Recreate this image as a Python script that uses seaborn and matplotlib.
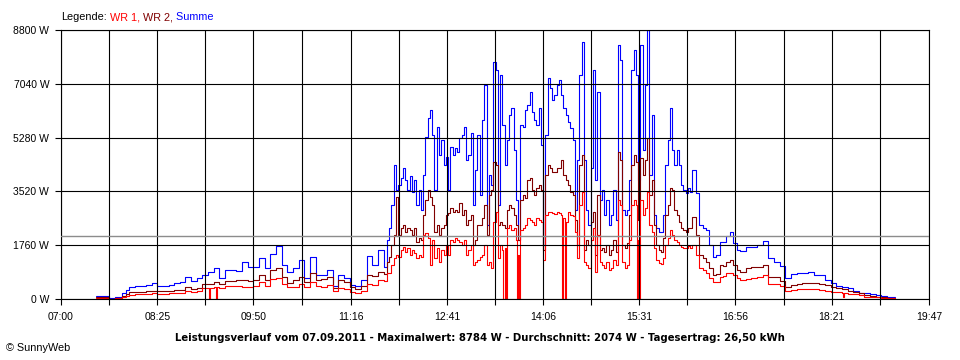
import matplotlib
matplotlib.use("Agg")
import numpy as np
import pandas as pd
import matplotlib.pyplot as plt
import seaborn as sns

# ---------------- data ----------------
times_am = [
    "07:31", "07:35", "07:40", "07:42", "07:45", "07:48", "07:51", "07:54", "07:57", "08:00",
    "08:05", "08:10", "08:15", "08:20", "08:25", "08:30", "08:35", "08:40", "08:45", "08:50",
    "08:55", "09:00", "09:05", "09:10", "09:11", "09:12", "09:15", "09:17", "09:18", "09:20",
    "09:25", "09:30", "09:35", "09:40", "09:45", "09:50", "09:55", "10:00", "10:05", "10:10",
    "10:15", "10:20", "10:25", "10:30", "10:35", "10:40", "10:45", "10:50", "10:55", "11:00",
    "11:05", "11:10", "11:15", "11:20", "11:25", "11:30", "11:35", "11:40", "11:45", "11:48",
]
summe_am = [
    100, 100, 100, 20, 20, 80, 80, 200, 295, 390,
    425, 425, 460, 520, 440, 440, 460, 520, 555, 720,
    590, 690, 785, 880, 880, 880, 1010, 1010, 1010, 690,
    950, 950, 920, 1210, 1050, 1050, 1340, 1010, 1470, 1730,
    1110, 880, 1010, 1280, 690, 1370, 785, 785, 950, 420,
    785, 690, 460, 420, 620, 1410, 1110, 1600, 1050, 1930,
]
wr2_am = [
    50, 50, 50, 15, 15, 40, 45, 100, 160, 230,
    240, 240, 250, 260, 250, 250, 260, 280, 295, 390,
    330, 360, 490, 490, 490, 490, 550, 550, 550, 490,
    590, 590, 620, 620, 590, 620, 785, 620, 950, 1010,
    720, 520, 620, 720, 560, 850, 620, 650, 720, 360,
    620, 560, 390, 330, 420, 785, 750, 880, 820, 1210,
]
wr1_am = [
    35, 35, 35, 10, 10, 30, 30, 65, 100, 130,
    150, 165, 165, 180, 170, 170, 180, 190, 200, 260,
    230, 260, 360, 360, 0, 360, 390, 0, 390, 360,
    425, 425, 425, 390, 390, 420, 560, 420, 650, 690,
    490, 390, 390, 490, 390, 560, 420, 390, 450, 260,
    360, 330, 230, 200, 260, 490, 460, 620, 590, 850,
]

times_mid = [
    "11:50", "11:52", "11:54", "11:56", "11:58", "12:00", "12:02", "12:04", "12:06", "12:08",
    "12:10", "12:12", "12:14", "12:16", "12:18", "12:20", "12:22", "12:24", "12:26", "12:28",
    "12:30", "12:32", "12:34", "12:36", "12:38", "12:40", "12:42", "12:44", "12:46", "12:48",
    "12:50", "12:52", "12:54", "12:56", "12:58", "13:00", "13:02", "13:04", "13:06", "13:08",
    "13:10", "13:12", "13:14", "13:16", "13:18", "13:20", "13:22", "13:24", "13:26", "13:28",
    "13:30", "13:31", "13:32", "13:33", "13:34", "13:36", "13:38", "13:40", "13:42", "13:43",
    "13:44", "13:45", "13:46", "13:48", "13:50", "13:52", "13:54", "13:56", "13:58", "14:00",
    "14:02", "14:04", "14:06", "14:08", "14:10", "14:12", "14:14", "14:16", "14:18", "14:20",
    "14:22", "14:23", "14:24", "14:25", "14:26", "14:28", "14:30", "14:32", "14:34", "14:36",
    "14:38", "14:40", "14:42", "14:44", "14:46", "14:48", "14:50", "14:52", "14:54", "14:56",
    "14:58", "15:00", "15:02", "15:04", "15:06", "15:08", "15:10", "15:12", "15:14", "15:16",
    "15:18", "15:20", "15:22", "15:24", "15:26", "15:28", "15:29", "15:30", "15:31", "15:32",
    "15:34", "15:36", "15:38", "15:40", "15:42", "15:44", "15:46", "15:48", "15:50", "15:52",
    "15:54", "15:56", "15:58", "16:00", "16:02", "16:04", "16:06", "16:08", "16:10", "16:12",
    "16:14", "16:16",
]
summe_mid = [
    2320, 3070, 4380, 3570, 3730, 3960, 4290, 3890, 3570, 4020,
    3500, 3890, 3070, 3570, 2910, 4060, 5300, 5920, 6180, 5360,
    3570, 5630, 4710, 5200, 4380, 4640, 3570, 4970, 4710, 4940,
    4810, 5270, 5360, 5630, 4550, 4710, 5430, 3070, 4220, 5360,
    3400, 5860, 7000, 2420, 4060, 3730, 7750, 7490, 3070, 7330,
    5690, 5690, 4380, 4380, 5200, 6020, 6250, 4870, 3240, 3240,
    1930, 1930, 5690, 5630, 6180, 6350, 6770, 6120, 5860, 5690,
    6250, 5040, 1770, 5360, 7230, 6900, 6510, 6670, 7000, 7160,
    6670, 6670, 6250, 6250, 6020, 5790, 5590, 5200, 2910, 4550,
    7330, 8410, 4550, 2910, 2420, 4290, 7490, 3890, 6770, 3240,
    3570, 2750, 3240, 2420, 2750, 3570, 2580, 8310, 7820, 2910,
    2750, 2910, 3890, 7490, 8150, 7330, 7330, 3890, 3890, 8310,
    4870, 7000, 8784, 4060, 6020, 2750, 2320, 2190, 2190, 2750,
    4380, 5200, 6250, 4870, 4380, 4870, 4380, 3730, 3570, 3470,
    3630, 3500,
]
wr2_mid = [
    1370, 1770, 2090, 3340, 2090, 2320, 2420, 2190, 2320, 2260,
    2090, 2320, 1860, 1990, 1930, 2750, 3240, 3570, 3340, 3070,
    2190, 2420, 2090, 2320, 2420, 2750, 2810, 2980, 2850, 2910,
    2850, 3140, 2750, 2910, 2420, 2580, 2750, 1770, 1930, 2420,
    2420, 2650, 3070, 2090, 3400, 3570, 4480, 4380, 2420, 2520,
    2420, 2420, 2320, 2320, 2910, 3070, 2980, 2750, 2420, 2420,
    1930, 1930, 3240, 3400, 3300, 3890, 3960, 3570, 3400, 3630,
    3730, 3570, 1600, 4060, 4380, 4290, 4150, 4150, 4290, 4290,
    4550, 4550, 4060, 4060, 3890, 3730, 3500, 3400, 2580, 1770,
    4380, 4710, 1600, 1930, 1770, 2520, 2850, 1440, 3400, 1600,
    1670, 1540, 1770, 1440, 1600, 1930, 1540, 4810, 4550, 1770,
    1670, 1830, 2750, 4380, 4710, 4480, 4480, 2580, 2580, 4610,
    4060, 4550, 5270, 3400, 3890, 2420, 1770, 1600, 1540, 2000,
    2750, 3070, 3630, 3570, 2910, 2750, 2520, 2320, 2260, 2190,
    2320, 2320,
]
wr1_mid = [
    850, 1110, 1340, 1440, 1370, 1600, 1700, 1540, 1670, 1440,
    1600, 1500, 1340, 1440, 1370, 2090, 2160, 2000, 1110, 1930,
    1340, 1670, 1210, 1600, 1440, 1770, 1440, 1930, 1860, 2000,
    1930, 1860, 1770, 1930, 1440, 1600, 1770, 1110, 1210, 1280,
    1370, 1440, 1770, 1110, 1210, 1010, 2520, 2850, 1340, 1770,
    1600, 0, 1670, 0, 2320, 2420, 2260, 2320, 1930, 0,
    1440, 0, 2260, 2320, 2420, 2650, 2580, 2520, 2420, 2650,
    2580, 2520, 1280, 2750, 2850, 2850, 2810, 2780, 2850, 2810,
    2750, 0, 2650, 0, 2520, 2850, 2750, 2710, 2190, 1340,
    3070, 3500, 1210, 1110, 1010, 1930, 2320, 880, 2090, 1210,
    1110, 1010, 1210, 950, 1010, 1280, 1110, 3240, 3070, 1210,
    1010, 1110, 1930, 3070, 3240, 3070, 0, 1930, 0, 3240,
    2750, 2980, 3500, 2420, 2190, 1670, 1280, 1180, 1150, 1340,
    1770, 2000, 2260, 2090, 1930, 1860, 1770, 1700, 1670, 1670,
    1730, 1670,
]

times_pm = [
    "16:18", "16:21", "16:24", "16:27", "16:30", "16:33", "16:36", "16:39", "16:42", "16:45",
    "16:48", "16:51", "16:54", "16:57", "17:00", "17:05", "17:10", "17:15", "17:20", "17:25",
    "17:30", "17:35", "17:40", "17:45", "17:50", "17:55", "18:00", "18:05", "18:10", "18:15",
    "18:20", "18:25", "18:30", "18:31", "18:32", "18:35", "18:40", "18:45", "18:50", "18:55",
    "19:00", "19:05", "19:10", "19:15", "19:17",
]
summe_pm = [
    4220, 3470, 2420, 2320, 2260, 1770, 1370, 1440, 1860, 1860,
    2060, 2190, 1830, 1600, 1570, 1700, 1700, 1770, 1900, 1340,
    1210, 1080, 690, 820, 850, 850, 880, 785, 785, 620,
    520, 425, 390, 390, 390, 360, 260, 200, 200, 165,
    130, 100, 65, 50, 50,
]
wr2_pm = [
    2680, 2090, 1440, 1340, 1210, 1010, 785, 820, 1110, 1080,
    1210, 1280, 1110, 950, 880, 1010, 1050, 1050, 1110, 720,
    720, 590, 390, 460, 490, 520, 520, 520, 490, 460,
    390, 360, 330, 330, 330, 260, 230, 200, 130, 100,
    80, 65, 40, 30, 30,
]
wr1_pm = [
    1770, 1440, 1010, 950, 850, 690, 560, 560, 720, 750,
    850, 850, 785, 690, 620, 650, 690, 720, 785, 490,
    490, 425, 260, 295, 330, 330, 330, 330, 295, 260,
    230, 230, 200, 60, 200, 165, 165, 130, 80, 65,
    50, 40, 30, 20, 20,
]

x_tick_labels = ["07:00", "08:25", "09:50", "11:16", "12:41",
                 "14:06", "15:31", "16:56", "18:21", "19:47"]
y_ticks = [0, 1760, 3520, 5280, 7040, 8800]
durchschnitt = 2074
title_text = ("Leistungsverlauf vom 07.09.2011 - Maximalwert: 8784 W - "
              "Durchschnitt: 2074 W - Tagesertrag: 26,50 kWh")
series_names = ["WR 1", "WR 2", "Summe"]
series_colors = ["#FF0000", "#800000", "#0000FF"]


def to_min(s):
    h, m = s.split(":")
    return int(h) * 60 + int(m)


times = times_am + times_mid + times_pm
df = pd.DataFrame({
    "t": [to_min(s) for s in times],
    "WR 1": wr1_am + wr1_mid + wr1_pm,
    "WR 2": wr2_am + wr2_mid + wr2_pm,
    "Summe": summe_am + summe_mid + summe_pm,
})

# ---------------- style ----------------
sns.set_theme(style="white")
plt.rcParams["font.family"] = ["Liberation Sans", "DejaVu Sans"]
plt.rcParams["text.color"] = "black"
plt.rcParams["xtick.color"] = "black"
plt.rcParams["ytick.color"] = "black"
plt.rcParams["axes.edgecolor"] = "black"

fig = plt.figure(figsize=(9.6, 3.6), dpi=100)
fig.patch.set_facecolor("white")
ax = fig.add_axes([61 / 960, 61 / 360, 868 / 960, 269 / 360])

# draw Summe first, then WR 2, then WR 1 on top
for name, color, z in [("Summe", series_colors[2], 2.0),
                       ("WR 2", series_colors[1], 2.1),
                       ("WR 1", series_colors[0], 2.2)]:
    sns.lineplot(data=df, x="t", y=name, ax=ax, color=color, lw=0.8,
                 drawstyle="steps-post", estimator=None, legend=False,
                 zorder=z)

xt = [to_min(s) for s in x_tick_labels]
ax.set_xlim(xt[0], xt[-1])
ax.set_ylim(y_ticks[0], y_ticks[-1])
ax.set_xticks(xt)
ax.set_xticklabels(x_tick_labels)
minor = [(a + b) / 2 for a, b in zip(xt[:-1], xt[1:])]
ax.set_xticks(minor, minor=True)
ax.set_yticks(y_ticks)
ax.set_yticklabels([f"{v} W" for v in y_ticks])
ax.set_xlabel("")
ax.set_ylabel("")

ax.tick_params(axis="x", which="both", direction="out", length=4, width=0.8,
               pad=5, labelsize=7.5, bottom=True)
ax.tick_params(axis="y", which="both", direction="out", length=4.5, width=0.8,
               pad=4, labelsize=7.5, left=True)

ax.set_axisbelow(False)
ax.grid(True, which="both", axis="both", color="black", lw=0.8, zorder=3)
ax.axhline(durchschnitt, color="#8c8c8c", lw=1.0, zorder=3.5)
for sp in ax.spines.values():
    sp.set_visible(True)
    sp.set_color("black")
    sp.set_linewidth(0.8)

# legend as coloured text
prev = fig.text(61 / 960, 1 - 17 / 360, "Legende:", fontsize=7.8,
                color="black", va="center", ha="left")
for s, c in [(" WR 1,", series_colors[0]), (" WR 2,", series_colors[1]),
             (" Summe", series_colors[2])]:
    prev = ax.annotate(s, xy=(1, 0), xycoords=prev, va="bottom", ha="left",
                       fontsize=7.8, color=c, annotation_clip=False)

fig.text(480 / 960, 1 - 338 / 360, title_text, ha="center", va="center",
         fontsize=7.3, fontweight="bold", color="black",
         family=["DejaVu Sans"])
fig.text(6 / 960, 1 - 348 / 360, "\u00a9 SunnyWeb", ha="left", va="center",
         fontsize=7.8, color="black")

fig.savefig("out.png", dpi=100, facecolor="white")
